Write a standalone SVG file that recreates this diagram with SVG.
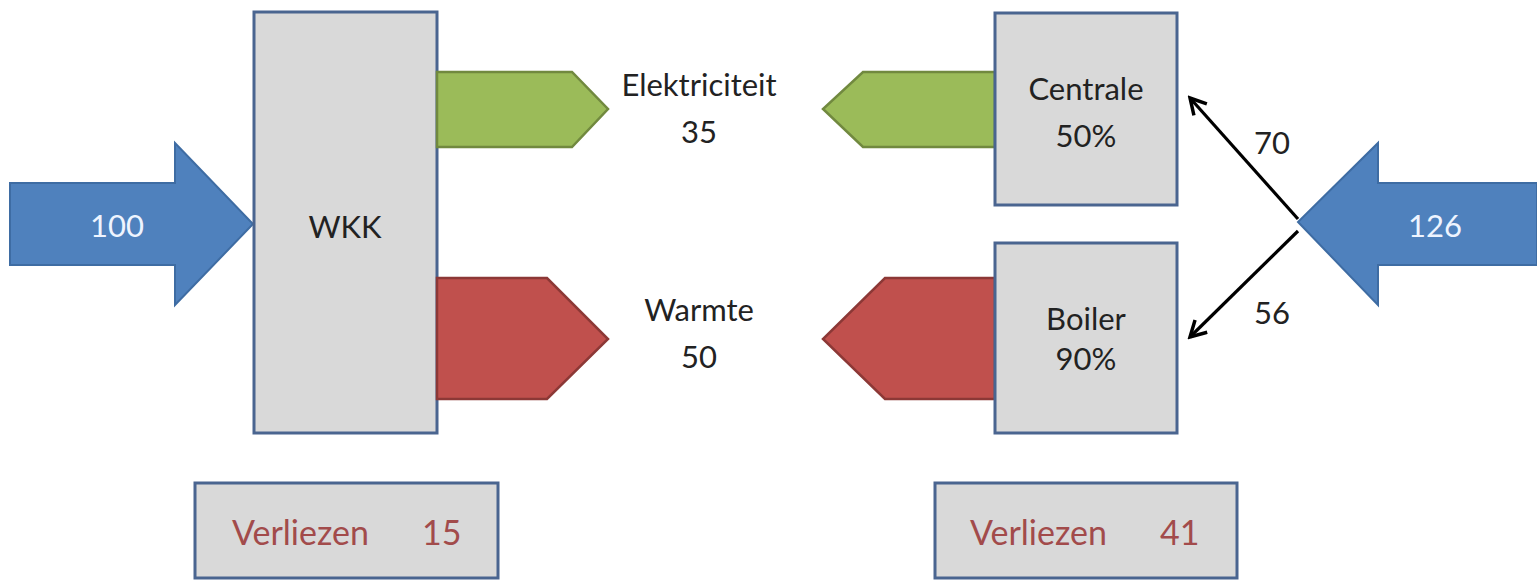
<svg xmlns="http://www.w3.org/2000/svg" width="1537" height="583" viewBox="0 0 1537 583">
<defs>
<style>
.box{fill:#d9d9d9;stroke:#4a6590;stroke-width:3}
.blue{fill:#4f81bd;stroke:#3e6ca3;stroke-width:2}
.green{fill:#9bbb59;stroke:#71893f;stroke-width:2.5}
.red{fill:#c0504d;stroke:#8c3836;stroke-width:2.5}
.t{font-family:Lato,"Open Sans","Liberation Sans",sans-serif;font-size:31px;fill:#222;text-anchor:middle;dominant-baseline:central}
.w{fill:#eef4ff}
.loss{font-family:Lato,"Open Sans","Liberation Sans",sans-serif;font-size:34px;fill:#a24b4b;dominant-baseline:central}
.line{stroke:#000;stroke-width:3.2;fill:none}
</style>
<marker id="ah" viewBox="0 0 12 12" refX="10" refY="6" markerWidth="6.5" markerHeight="6.5" orient="auto" markerUnits="strokeWidth">
<path d="M1,1 L10,6 L1,11" fill="none" stroke="#000" stroke-width="2"/>
</marker>
</defs>
<rect width="1537" height="583" fill="#fff"/>
<g id="input-left">
<polygon class="blue" points="10,183 175,183 175,143 253,224 175,305 175,265 10,265"/>
<text class="t w" x="117" y="225">100</text>
</g>
<g id="wkk">
<rect class="box" x="254" y="12" width="183" height="421"/>
<text class="t" x="345" y="226">WKK</text>
</g>
<g id="elec-left">
<polygon class="green" points="437,72 572,72 608,109 572,147 437,147"/>
</g>
<g id="heat-left">
<polygon class="red" points="437,278 547,278 608,339 547,399 437,399"/>
</g>
<g id="elektriciteit">
<text class="t" x="699" y="84">Elektriciteit</text>
<text class="t" x="699" y="131">35</text>
</g>
<g id="warmte">
<text class="t" x="699" y="309">Warmte</text>
<text class="t" x="699" y="356">50</text>
</g>
<g id="elec-right">
<polygon class="green" points="995,72 863,72 823,109 863,147 995,147"/>
</g>
<g id="heat-right">
<polygon class="red" points="995,278 885,278 823,339 885,399 995,399"/>
</g>
<g id="centrale">
<rect class="box" x="995" y="13" width="182" height="192"/>
<text class="t" x="1086" y="88">Centrale</text>
<text class="t" x="1086" y="135">50%</text>
</g>
<g id="boiler">
<rect class="box" x="995" y="243" width="182" height="190"/>
<text class="t" x="1086" y="318">Boiler</text>
<text class="t" x="1086" y="358">90%</text>
</g>
<g id="input-right">
<polygon class="blue" points="1537,183 1378,183 1378,143 1298,222 1378,305 1378,265 1537,265"/>
<text class="t w" x="1435" y="225">126</text>
</g>
<g id="connectors">
<line class="line" x1="1298" y1="219" x2="1190" y2="98" marker-end="url(#ah)"/>
<line class="line" x1="1298" y1="231" x2="1190" y2="337" marker-end="url(#ah)"/>
<text class="t" x="1272" y="142">70</text>
<text class="t" x="1272" y="312">56</text>
</g>
<g id="verliezen-left">
<rect class="box" x="195" y="483" width="303" height="95"/>
<text class="loss" x="232" y="531">Verliezen</text>
<text class="loss" x="422" y="531">15</text>
</g>
<g id="verliezen-right">
<rect class="box" x="935" y="483" width="302" height="95"/>
<text class="loss" x="970" y="531">Verliezen</text>
<text class="loss" x="1160" y="531">41</text>
</g>
</svg>
